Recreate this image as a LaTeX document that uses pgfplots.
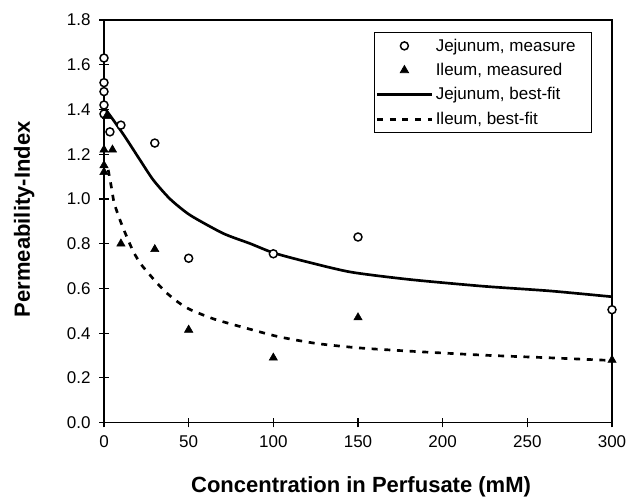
\documentclass[border=0pt]{standalone}
\usepackage{fontspec}
\setmainfont{Liberation Sans}
\usepackage{pgfplots}
\pgfplotsset{compat=1.18}

\begin{document}
\begin{tikzpicture}
\begin{axis}[
    scale only axis,
    width=381pt, height=302pt,
    xmin=0, xmax=300,
    ymin=0, ymax=1.8,
    xtick={0,50,100,150,200,250,300},
    ytick={0,0.2,0.4,0.6,0.8,1.0,1.2,1.4,1.6,1.8},
    yticklabel style={/pgf/number format/.cd, fixed, fixed zerofill, precision=1},
    /pgf/number format/assume math mode=true,
    tick label style={font=\fontsize{12.75}{15}\selectfont},
    xticklabel shift=3pt, yticklabel shift=3pt,
    tick align=center,
    xtick pos=bottom, ytick pos=left,
    major tick length=7pt,
    axis line style={line width=1pt},
    every tick/.style={black, line width=0.8pt},
    every axis x label/.style={at={(rel axis cs:0.506,-0.1727)}, anchor=base,
        font=\fontsize{16.5}{19}\selectfont\bfseries},
    every axis y label/.style={at={(rel axis cs:-0.157,0.505)}, rotate=90, anchor=center,
        font=\fontsize{16.5}{19}\selectfont\bfseries},
    xlabel={Concentration in Perfusate (mM)},
    ylabel={Permeability-Index},
    clip=false,
    legend image code/.code={\draw[mark repeat=2,mark phase=2,#1] plot coordinates {(0pt,0pt) (20.5pt,0pt) (41pt,0pt)};},
    legend style={at={(rel axis cs:0.9606,0.9694)}, anchor=north east,
        draw=black, line width=0.6pt, font=\fontsize{12.75}{15}\selectfont,
        inner xsep=1pt, inner ysep=2.5pt, row sep=3.6pt,
        cells={anchor=west}},
]

% best-fit curves (drawn first so the marks sit on top)
\addplot[forget plot, black, line width=2pt, smooth, tension=0.4] coordinates {
    (0,1.41) (5.5,1.353) (12.4,1.278) (21.3,1.174) (29.1,1.085) (39.0,1.000)
    (50.8,0.928) (70.4,0.846) (86.2,0.801) (99.4,0.761) (115.7,0.727)
    (145.2,0.674) (180.6,0.640) (223.9,0.610) (263.3,0.589) (300,0.563)
};
\addplot[forget plot, black, line width=2pt, dash pattern=on 4.5pt off 5pt, smooth, tension=0.4] coordinates {
    (2.5,1.13) (4.5,1.047) (5.9,0.985) (8.4,0.928) (11.4,0.868) (17.3,0.765)
    (22.3,0.704) (31.1,0.626) (37.0,0.580) (43.9,0.538) (50.8,0.506)
    (65.5,0.462) (88.1,0.414) (103.9,0.383) (125.6,0.354) (151.1,0.334)
    (184.6,0.318) (223.9,0.302) (263.3,0.290) (300,0.278)
};

% measured values
\addplot[only marks, mark=*, mark size=3pt,
    mark options={fill=white, draw=black, line width=1.1pt}] coordinates {
    (0,1.63) (0,1.52) (0,1.48) (0,1.42) (0,1.38) (3.5,1.30) (10,1.33)
    (30,1.25) (50,0.735) (100,0.755) (150,0.83) (300,0.505)
};
\addlegendentry{Jejunum, measure\hspace*{9pt}}
\addplot[only marks, mark=triangle*, mark size=3.6pt,
    mark options={fill=black, draw=black}] coordinates {
    (0,1.22) (0,1.15) (0,1.12) (1.5,1.37) (5,1.22) (10,0.80) (30,0.775)
    (50,0.415) (100,0.29) (150,0.47) (300,0.28)
};
\addlegendentry{Ileum, measured}

\addlegendimage{black, line width=2pt}
\addlegendentry{Jejunum, best-fit}
\addlegendimage{black, line width=2pt, dash pattern=on 4.5pt off 5pt}
\addlegendentry{Ileum, best-fit}

% page area matching the reference margins
\path (rel axis cs:-0.2047,-0.1876) rectangle (rel axis cs:1.0531,1.0497);
\end{axis}
\end{tikzpicture}
\end{document}
